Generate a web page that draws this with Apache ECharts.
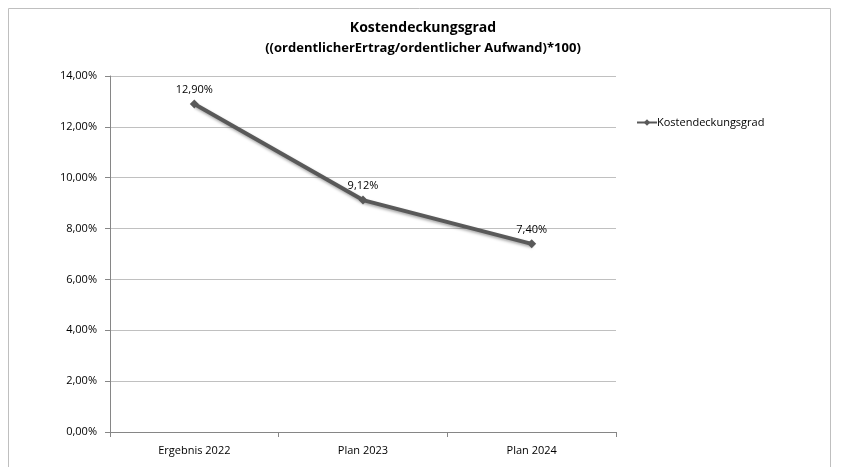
<!DOCTYPE html>
<html>
<head>
<meta charset="utf-8">
<script src="https://cdn.jsdelivr.net/npm/echarts@6/dist/echarts.min.js"></script>
<style>
html,body{margin:0;padding:0;background:#fff;}
#c{width:842px;height:467px;}
</style>
</head>
<body>
<div id="c"></div>
<script>
const categories = ['Ergebnis 2022', 'Plan 2023', 'Plan 2024'];
const seriesName = 'Kostendeckungsgrad';
const values = [12.90, 9.12, 7.40];
const titleLines = ['Kostendeckungsgrad', '((ordentlicherErtrag/ordentlicher Aufwand)*100)'];
const yMin = 0, yMax = 14, yStep = 2;

const fmt = v => v.toFixed(2).replace('.', ',') + '%';
const FONT = '"Open Sans", "Noto Sans", sans-serif';

const chart = echarts.init(document.getElementById('c'));
chart.setOption({
  animation: false,
  backgroundColor: '#fff',
  graphic: [{
    type: 'rect',
    shape: { x: 8.5, y: 8.5, width: 822, height: 470 },
    style: { fill: 'none', stroke: '#bfbfbf', lineWidth: 1 },
    z: -1
  }],
  title: {
    text: '{a|' + titleLines[0] + '}\n{b|' + titleLines[1] + '}',
    left: 423,
    textAlign: 'center',
    top: 18,
    padding: 0,
    textStyle: {
      rich: {
        a: { fontFamily: FONT, fontSize: 14, fontWeight: 'bold', color: '#000', lineHeight: 20, align: 'center' },
        b: { fontFamily: FONT, fontSize: 13, fontWeight: 'bold', color: '#000', lineHeight: 20, align: 'center' }
      }
    }
  },
  legend: {
    left: 636,
    top: 117,
    padding: 0,
    itemWidth: 20,
    itemHeight: 8,
    itemGap: 0,
    textStyle: { fontFamily: FONT, fontSize: 11, color: '#000', padding: [0, 0, 0, -5] },
    data: [seriesName]
  },
  grid: { left: 110, top: 76, width: 506, height: 356, containLabel: false },
  xAxis: {
    type: 'category',
    data: categories,
    boundaryGap: true,
    axisLine: { lineStyle: { color: '#868686', width: 1 } },
    axisTick: { show: true, length: 5, lineStyle: { color: '#868686' } },
    axisLabel: { fontFamily: FONT, fontSize: 11, color: '#000', margin: 13 },
    splitLine: { show: false }
  },
  yAxis: {
    type: 'value',
    min: yMin, max: yMax, interval: yStep,
    axisLine: { show: true, lineStyle: { color: '#868686', width: 1 } },
    axisTick: { show: true, length: 5, lineStyle: { color: '#868686' } },
    axisLabel: { fontFamily: FONT, fontSize: 11, color: '#000', margin: 13, formatter: fmt },
    splitLine: { show: true, lineStyle: { color: '#c0c0c0', width: 1 } }
  },
  series: [{
    name: seriesName,
    type: 'line',
    data: values,
    symbol: 'diamond',
    symbolSize: 9,
    itemStyle: { color: '#595959' },
    lineStyle: { color: '#595959', width: 4, shadowColor: 'rgba(0,0,0,0.35)', shadowBlur: 3, shadowOffsetX: 1, shadowOffsetY: 2 },
    label: {
      show: true, position: 'top', distance: 4,
      fontFamily: FONT, fontSize: 11, color: '#000',
      formatter: p => fmt(p.value)
    }
  }]
});
</script>
</body>
</html>
